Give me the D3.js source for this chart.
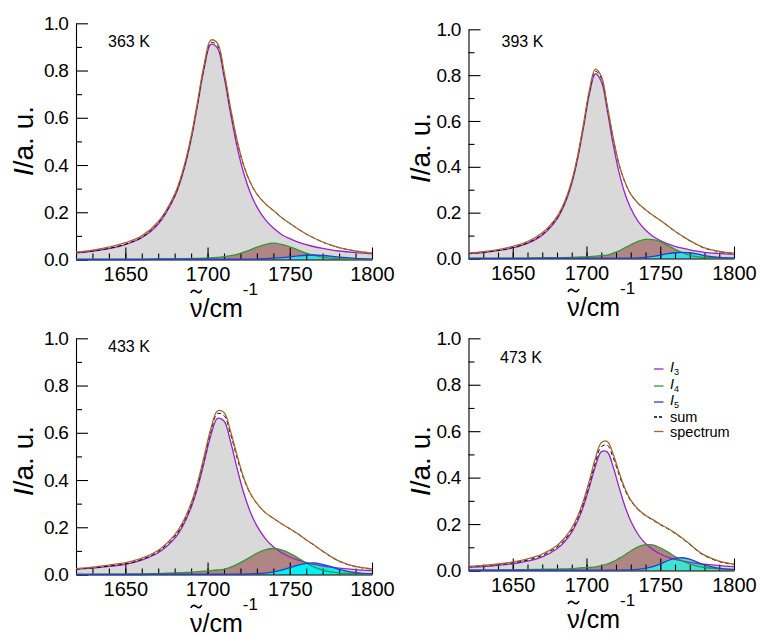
<!DOCTYPE html>
<html>
<head>
<meta charset="utf-8">
<script src="https://cdnjs.cloudflare.com/ajax/libs/d3/7.8.5/d3.min.js"></script>
<style>
  body { margin: 0; background: #fff; }
  svg { font-family: "Liberation Sans", Arial, Helvetica, sans-serif; }
</style>
</head>
<body>
<svg id="chart" width="761" height="635"></svg>
<script>
// wavenumber grid (cm^-1) the curves were read at
const wavenumbers = [1620, 1630, 1640, 1650, 1660, 1670, 1680, 1685, 1690, 1694, 1698, 1702, 1706, 1710, 1714,
  1718, 1722, 1726, 1730, 1735, 1740, 1745, 1750, 1755, 1760, 1765, 1770, 1775, 1780, 1790, 1800];

const temperatures = ["363 K", "393 K", "433 K", "473 K"];

// 363 K
const i3_363 = [0.028, 0.035, 0.046, 0.063, 0.092, 0.150, 0.266, 0.365, 0.508, 0.657, 0.811, 0.911, 0.895, 0.775, 0.617,
  0.476, 0.365, 0.283, 0.223, 0.170, 0.133, 0.106, 0.088, 0.074, 0.063, 0.054, 0.047, 0.041, 0.036, 0.029, 0.024];
const i4_363 = [0.001, 0.001, 0.001, 0.002, 0.002, 0.003, 0.003, 0.004, 0.004, 0.005, 0.006, 0.007, 0.009, 0.012, 0.016,
  0.022, 0.031, 0.041, 0.052, 0.063, 0.069, 0.064, 0.054, 0.040, 0.027, 0.017, 0.010, 0.006, 0.004, 0.002, 0.001];
const i5_363 = [0, 0, 0, 0, 0, 0.001, 0.001, 0.001, 0.001, 0.001, 0.001, 0.001, 0.001, 0.001, 0.001,
  0.001, 0.001, 0.002, 0.002, 0.004, 0.006, 0.008, 0.011, 0.015, 0.018, 0.019, 0.017, 0.014, 0.010, 0.005, 0.002];
const spec_363 = [0.031, 0.040, 0.052, 0.071, 0.100, 0.160, 0.276, 0.377, 0.521, 0.672, 0.828, 0.929, 0.916, 0.797, 0.641,
  0.503, 0.398, 0.326, 0.277, 0.237, 0.208, 0.178, 0.153, 0.129, 0.108, 0.090, 0.074, 0.061, 0.050, 0.036, 0.027];

// 393 K
const i3_393 = [0.021, 0.026, 0.034, 0.046, 0.066, 0.102, 0.172, 0.234, 0.327, 0.435, 0.573, 0.718, 0.806, 0.774, 0.648,
  0.501, 0.377, 0.285, 0.219, 0.162, 0.124, 0.097, 0.078, 0.064, 0.053, 0.045, 0.038, 0.032, 0.027, 0.022, 0.018];
const i4_393 = [0.001, 0.001, 0.001, 0.002, 0.002, 0.003, 0.004, 0.004, 0.005, 0.006, 0.007, 0.008, 0.010, 0.013, 0.015,
  0.023, 0.033, 0.047, 0.060, 0.075, 0.083, 0.082, 0.073, 0.057, 0.040, 0.025, 0.014, 0.008, 0.005, 0.003, 0.002];
const i5_393 = [0, 0, 0, 0, 0, 0.001, 0.001, 0.001, 0.001, 0.001, 0.001, 0.001, 0.001, 0.001, 0.001,
  0.001, 0.001, 0.002, 0.002, 0.003, 0.005, 0.009, 0.015, 0.021, 0.025, 0.027, 0.025, 0.020, 0.013, 0.005, 0.002];
const spec_393 = [0.024, 0.030, 0.039, 0.053, 0.074, 0.112, 0.183, 0.245, 0.339, 0.449, 0.589, 0.736, 0.826, 0.796, 0.670,
  0.530, 0.413, 0.335, 0.281, 0.241, 0.213, 0.189, 0.167, 0.143, 0.119, 0.098, 0.078, 0.061, 0.046, 0.031, 0.023];

// 433 K
const i3_433 = [0.022, 0.027, 0.034, 0.043, 0.061, 0.092, 0.153, 0.206, 0.283, 0.369, 0.477, 0.589, 0.661, 0.650, 0.562,
  0.448, 0.345, 0.265, 0.206, 0.153, 0.117, 0.092, 0.074, 0.061, 0.050, 0.043, 0.036, 0.031, 0.027, 0.021, 0.017];
const i4_433 = [0.001, 0.001, 0.002, 0.002, 0.003, 0.004, 0.007, 0.008, 0.010, 0.012, 0.014, 0.016, 0.019, 0.022, 0.031,
  0.043, 0.058, 0.074, 0.090, 0.104, 0.110, 0.104, 0.090, 0.070, 0.049, 0.031, 0.019, 0.011, 0.007, 0.004, 0.003];
const i5_433 = [0, 0, 0, 0, 0, 0.001, 0.001, 0.001, 0.001, 0.001, 0.001, 0.001, 0.001, 0.001, 0.001,
  0.002, 0.002, 0.003, 0.004, 0.006, 0.011, 0.019, 0.029, 0.040, 0.047, 0.049, 0.043, 0.033, 0.022, 0.008, 0.003];
const spec_433 = [0.025, 0.031, 0.040, 0.050, 0.069, 0.103, 0.168, 0.222, 0.302, 0.391, 0.502, 0.617, 0.692, 0.686, 0.606,
  0.503, 0.410, 0.344, 0.301, 0.263, 0.238, 0.215, 0.194, 0.172, 0.147, 0.124, 0.099, 0.076, 0.057, 0.034, 0.024];

// 473 K
const i3_473 = [0.014, 0.017, 0.022, 0.029, 0.040, 0.059, 0.094, 0.123, 0.165, 0.213, 0.278, 0.360, 0.448, 0.511, 0.511,
  0.448, 0.360, 0.278, 0.213, 0.155, 0.116, 0.090, 0.071, 0.058, 0.048, 0.041, 0.035, 0.030, 0.027, 0.021, 0.017];
const i4_473 = [0.001, 0.002, 0.002, 0.003, 0.004, 0.005, 0.006, 0.007, 0.008, 0.010, 0.012, 0.013, 0.016, 0.021, 0.028,
  0.038, 0.052, 0.067, 0.084, 0.102, 0.111, 0.110, 0.098, 0.080, 0.060, 0.041, 0.028, 0.019, 0.013, 0.008, 0.005];
const i5_473 = [0.001, 0.001, 0.001, 0.001, 0.001, 0.001, 0.001, 0.001, 0.001, 0.001, 0.001, 0.001, 0.001, 0.001, 0.001,
  0.002, 0.002, 0.003, 0.003, 0.005, 0.009, 0.017, 0.028, 0.042, 0.052, 0.055, 0.049, 0.036, 0.024, 0.009, 0.004];
const spec_473 = [0.018, 0.022, 0.028, 0.037, 0.050, 0.071, 0.108, 0.139, 0.183, 0.234, 0.302, 0.388, 0.483, 0.550, 0.556,
  0.503, 0.424, 0.354, 0.303, 0.264, 0.238, 0.219, 0.199, 0.182, 0.162, 0.139, 0.114, 0.087, 0.066, 0.040, 0.027];

const xDomain = [1620, 1800];
const xMajorTicks = [1650, 1700, 1750, 1800];
const xMinorTicks = d3.range(1630, 1800, 10);
const yMajorTicks = [0, 0.2, 0.4, 0.6, 0.8, 1.0];
const yMinorTicks = [0.1, 0.3, 0.5, 0.7, 0.9];
const legendLabels = ["3", "4", "5", "sum", "spectrum"];

const colors = {
  i3: "#9a22c8",
  i4: "#2e9a2e",
  i5: "#2a3ccc",
  sum: "#000",
  spectrum: "#a2692c",
  i3Fill: "#d9d9d9",
  i4Fill: "#b08684"
};

// panel frames (pixels)
const panels = [
  { label: temperatures[0], i3: i3_363, i4: i4_363, i5: i5_363, spectrum: spec_363,
    left: 76, right: 372, top: 23.3, bottom: 259.5, labelX: 108, labelY: 46.5, yTitleX: 33, yTitleY: 141, i5Fill: "#2fdcec" },
  { label: temperatures[1], i3: i3_393, i4: i4_393, i5: i5_393, spectrum: spec_393,
    left: 468.5, right: 734, top: 29.3, bottom: 258.5, labelX: 501.5, labelY: 46.5, yTitleX: 430, yTitleY: 148, i5Fill: "#2fdcec" },
  { label: temperatures[2], i3: i3_433, i4: i4_433, i5: i5_433, spectrum: spec_433,
    left: 76, right: 372, top: 338.3, bottom: 574.5, labelX: 108, labelY: 351.5, yTitleX: 33, yTitleY: 461, i5Fill: "#00f0fa" },
  { label: temperatures[3], i3: i3_473, i4: i4_473, i5: i5_473, spectrum: spec_473,
    left: 468.5, right: 734, top: 338.3, bottom: 570.5, labelX: 500, labelY: 363, yTitleX: 430, yTitleY: 461, i5Fill: "#3ee2d2", legend: true }
];

const svg = d3.select("#chart");

const drawPanel = (p) => {
  const x = d3.scaleLinear().domain(xDomain).range([p.left, p.right]);
  const y = d3.scaleLinear().domain([0, 1]).range([p.bottom, p.top]);
  const curve = d3.curveCatmullRom.alpha(0.5);

  const points = (values) => wavenumbers.map((w, i) => [w, values[i]]);
  const sum = wavenumbers.map((w, i) => p.i3[i] + p.i4[i] + p.i5[i]);

  const area = d3.area()
    .x(d => x(d[0]))
    .y0(y(0))
    .y1(d => y(Math.max(d[1], 0)))
    .curve(curve);

  const line = d3.line()
    .x(d => x(d[0]))
    .y(d => y(Math.max(d[1], 0)))
    .curve(curve);

  const g = svg.append("g").attr("class", "panel");

  // fills

  g.append("path").attr("d", area(points(p.i3))).attr("fill", colors.i3Fill);
  g.append("path").attr("d", area(points(p.i4))).attr("fill", colors.i4Fill);
  g.append("path").attr("d", area(points(p.i5))).attr("fill", p.i5Fill);

  // axes

  const xAxis = g.append("g")
    .attr("transform", `translate(0,${p.bottom})`)
    .call(d3.axisBottom(x).tickValues(xMajorTicks).tickSizeInner(-12).tickSizeOuter(0).tickPadding(7)
      .tickFormat(d3.format("d")));

  g.append("g")
    .attr("transform", `translate(0,${p.bottom})`)
    .call(d3.axisBottom(x).tickValues(xMinorTicks).tickSizeInner(-6).tickSizeOuter(0).tickFormat(""))
    .select(".domain").remove();

  const yAxis = g.append("g")
    .attr("transform", `translate(${p.left},0)`)
    .call(d3.axisLeft(y).tickValues(yMajorTicks).tickSizeInner(-12).tickSizeOuter(0).tickPadding(8)
      .tickFormat(d3.format(".1f")));

  g.append("g")
    .attr("transform", `translate(${p.left},0)`)
    .call(d3.axisLeft(y).tickValues(yMinorTicks).tickSizeInner(-6).tickSizeOuter(0).tickFormat(""))
    .select(".domain").remove();

  g.selectAll(".tick line, .domain").attr("stroke", "#000").attr("stroke-width", 1.1);
  xAxis.selectAll("text").attr("font-size", 20).attr("fill", "#000").attr("font-family", null);
  yAxis.selectAll("text").attr("font-size", 19).attr("letter-spacing", -0.8).attr("fill", "#000").attr("font-family", null);

  // curves

  g.append("path").attr("d", line(points(p.i3))).attr("fill", "none").attr("stroke", colors.i3).attr("stroke-width", 1.3);
  g.append("path").attr("d", line(points(p.i4))).attr("fill", "none").attr("stroke", colors.i4).attr("stroke-width", 1.3);
  g.append("path").attr("d", line(points(p.i5))).attr("fill", "none").attr("stroke", colors.i5).attr("stroke-width", 1.3);
  g.append("path").attr("d", line(points(sum))).attr("fill", "none").attr("stroke", colors.sum)
    .attr("stroke-width", 1).attr("stroke-dasharray", "4,3");
  g.append("path").attr("d", line(points(p.spectrum))).attr("fill", "none").attr("stroke", colors.spectrum).attr("stroke-width", 1.3);

  // labels

  g.append("text")
    .attr("x", p.labelX)
    .attr("y", p.labelY)
    .attr("font-size", 16)
    .text(p.label);

  const titleY = p.bottom + 57;
  const xTitle = g.append("text")
    .attr("x", (p.left + p.right) / 2)
    .attr("y", titleY)
    .attr("text-anchor", "middle")
    .attr("font-size", 25);
  xTitle.append("tspan").text("\u03bd/cm");
  xTitle.append("tspan").attr("font-size", 17).attr("dy", -22).text("-1");

  // tilde over the nu, drawn as a stroke
  const nu = xTitle.node().getExtentOfChar(0);
  const cx = nu.x + nu.width / 2;
  const cy = titleY - 25;
  g.append("path")
    .attr("d", `M${cx - 5.5},${cy + 1.5} C${cx - 3.5},${cy - 2.5} ${cx - 1.5},${cy - 1} ${cx},${cy} S${cx + 3.5},${cy + 2.5} ${cx + 5.5},${cy - 1.5}`)
    .attr("fill", "none")
    .attr("stroke", "#000")
    .attr("stroke-width", 1.6);

  const yTitle = g.append("text")
    .attr("transform", `translate(${p.yTitleX},${p.yTitleY}) rotate(-90)`)
    .attr("text-anchor", "middle")
    .attr("font-size", 28);
  yTitle.append("tspan").attr("font-style", "italic").text("I");
  yTitle.append("tspan").text("/a. u.");

  if (p.legend) drawLegend(g);
};

const drawLegend = (g) => {
  const rows = [
    { color: colors.i3, dash: null, y: 369 },
    { color: colors.i4, dash: null, y: 386 },
    { color: colors.i5, dash: null, y: 402 },
    { color: colors.sum, dash: "3,2", y: 417 },
    { color: colors.spectrum, dash: null, y: 431.5 }
  ];

  rows.forEach((r, i) => {
    g.append("line")
      .attr("x1", 654).attr("x2", 663.5)
      .attr("y1", r.y).attr("y2", r.y)
      .attr("stroke", r.color)
      .attr("stroke-width", 1.3)
      .attr("stroke-dasharray", r.dash);

    const t = g.append("text")
      .attr("x", 670)
      .attr("y", i < 3 ? r.y + 3 : r.y + 5)
      .attr("font-size", 14.5);
    if (i < 3) {
      t.append("tspan").attr("font-style", "italic").text("I");
      t.append("tspan").attr("font-size", 9).attr("dy", 3).text(legendLabels[i]);
    } else {
      t.text(legendLabels[i]);
    }
  });
};

panels.forEach(drawPanel);
</script>
</body>
</html>
